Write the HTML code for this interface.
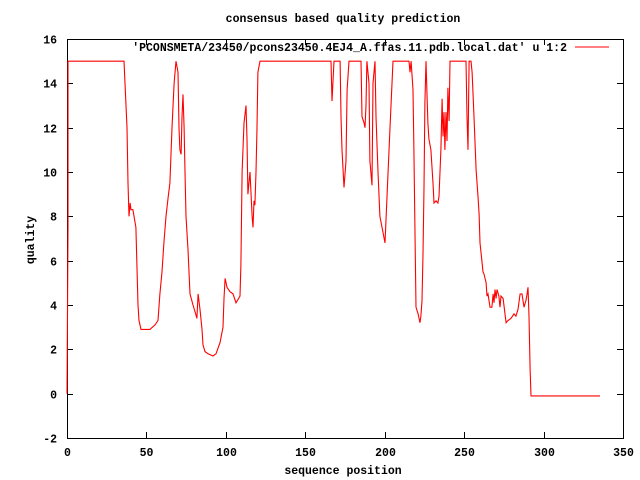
<!DOCTYPE html>
<html><head><meta charset="utf-8"><style>
html,body{margin:0;padding:0;background:#fff}
svg{display:block}
text{font-family:"Liberation Mono",monospace;font-weight:bold;font-size:11.5px;fill:#000}
</style></head><body>
<svg id="chart" width="640" height="480">
<rect x="0" y="0" width="640" height="480" fill="#fff"/>
<text x="343" y="22" text-anchor="middle">consensus based quality prediction</text>
<text x="343" y="474" text-anchor="middle">sequence position</text>
<text transform="translate(34,240) rotate(-90)" text-anchor="middle">quality</text>
<g id="axes"></g>
<g id="series"></g>
<g>
<text x="567" y="51" text-anchor="end">'PCONSMETA/23450/pcons23450.4EJ4_A.ffas.11.pdb.local.dat' u 1:2</text>
<line x1="575" y1="47" x2="609" y2="47" stroke="#f00" stroke-width="1"/>
</g>
</svg>
<script>
const xTicks=[0,50,100,150,200,250,300,350];
const yTicks=[-2,0,2,4,6,8,10,12,14,16];
const seqPos=[
0,0.6,0.6,35.9,36.5,37.8,38.4,39,39.7,40.3,41.5,43.4,44.7,45.3,46.6,52.2,55.4,57.3,58.5,59.8,
61,62.3,63.6,64.8,66.1,67.4,68.6,69.9,70.5,71.1,71.8,72.4,73,73.7,74.3,74.9,76.2,76.8,77.4,79.3,
80.6,81.8,82.5,83.7,85,85.6,86.9,88.8,91.9,93.8,96.3,98.2,98.8,99.5,100.7,102.6,104.5,106.4,108.9,109.5,
110.2,111.4,112.7,113.3,113.9,115.2,116.5,117.1,117.7,118.3,119,119.6,120.2,121.5,139.7,
166.2,166.8,168.1,169.3,171.9,172.5,173.1,174.4,175.6,176.3,177.5,185.1,185.7,187,187.6,188.2,188.8,190.1,190.7,192,
192.6,193.9,194.5,195.8,197,200.2,203.3,205.2,215.3,215.9,216.6,217.8,218.4,219.1,219.7,221,222.2,222.8,223.5,224.1,
224.7,225.3,226,226.6,227.2,227.8,229.1,230.4,231,232.3,233.5,234.2,235.4,236.1,236.7,237.3,237.9,238.6,239.2,239.8,
240.5,241.1,251.2,251.8,252.4,253.1,254.3,255,256.2,257.5,258.7,259.4,260,261.3,261.9,262.5,263.8,264.4,265,266.3,
267.5,268.2,268.8,269.4,270.1,270.7,271.9,272.6,273.2,274.5,275.7,276.4,277.6,279.5,281.4,282.6,283.9,285.2,286.4,287.7,
288.9,289.6,290.2,290.8,291.5,292.1,335.5];
const quality=[
0,7.5,15,15,14,12,9.5,8,8.6,8.3,8.3,7.5,4,3.3,2.9,2.9,3.1,3.3,4.5,5.5,
6.8,8,8.8,9.5,12,14,15,14.5,12,11,10.8,12.5,13.5,12,10,8,6.5,5.5,4.5,4,
3.7,3.4,4.5,3.8,2.9,2.2,1.9,1.8,1.7,1.8,2.3,3,4.3,5.2,4.8,4.6,4.5,4.1,4.4,5.8,
10,12.2,13,11.5,9,10,8,7.5,8.7,8.5,10,12,14.5,15,15,
15,13.2,15,15,15,12.5,11,9.3,10.5,13.7,15,15,12.5,12.2,12,13,15,14,10.5,9.4,
14,15,12.5,10,8,6.8,12,15,15,14.5,15,13.7,11,6.9,3.9,3.6,3.2,3.5,4.2,6.3,
9.3,13.1,15,13.5,12.2,11.5,11,9.5,8.6,8.7,8.6,8.9,11,13.3,11.6,12.7,11,12.7,11.4,13.8,
12.3,15,15,12.5,11,15,15,14.5,12.5,10.1,8.9,8.1,6.8,5.9,5.5,5.4,5,4.4,4.5,3.9,
3.9,4.5,4.1,4.7,4.3,4.7,4.4,3.9,4.4,4.3,3.6,3.2,3.3,3.4,3.6,3.5,3.8,4.5,4.5,3.9,
4.2,4.5,4.8,3.5,1.1,-0.1,-0.1];
const L=67,R=623,T=39,B=438,xMin=0,xMax=350,yMin=-2,yMax=16;
const sx=v=>L+(v-xMin)/(xMax-xMin)*(R-L);
const sy=v=>B-(v-yMin)/(yMax-yMin)*(B-T);
const NS='http://www.w3.org/2000/svg';
const axes=document.getElementById('axes');
function mk(tag,attrs,parent){const e=document.createElementNS(NS,tag);for(const k in attrs)e.setAttribute(k,attrs[k]);parent.appendChild(e);return e;}
const frame=mk('rect',{x:L+0.5,y:T+0.5,width:R-L,height:B-T,fill:'none',stroke:'#000','stroke-width':1},axes);


yTicks.forEach(v=>{
  const y=Math.round(sy(v))+0.5;
  const t1=mk('line',{x1:L,y1:y,x2:L+6,y2:y,stroke:'#000'},axes);
  
  
  const t2=mk('line',{x1:R-6,y1:y,x2:R,y2:y,stroke:'#000'},axes);
  
  
  const lb=mk('text',{x:57,y:y+4,'text-anchor':'end'},axes);
  lb.textContent=v;
  
  
});
xTicks.forEach(v=>{
  const x=Math.round(sx(v))+0.5;
  const t1=mk('line',{x1:x,y1:B,x2:x,y2:B-6,stroke:'#000'},axes);
  
  
  const t2=mk('line',{x1:x,y1:T,x2:x,y2:T+6,stroke:'#000'},axes);
  
  
  const lb=mk('text',{x:x,y:456,'text-anchor':'middle'},axes);
  lb.textContent=v;
  
  
});
const n=Math.min(seqPos.length,quality.length);
const pts=[];
for(let i=0;i<n;i++)pts.push(sx(seqPos[i]).toFixed(1)+','+sy(quality[i]).toFixed(1));
const line=mk('polyline',{points:pts.join(' '),fill:'none',stroke:'#f00','stroke-width':1.1},document.getElementById('series'));


</script>
</body></html>
